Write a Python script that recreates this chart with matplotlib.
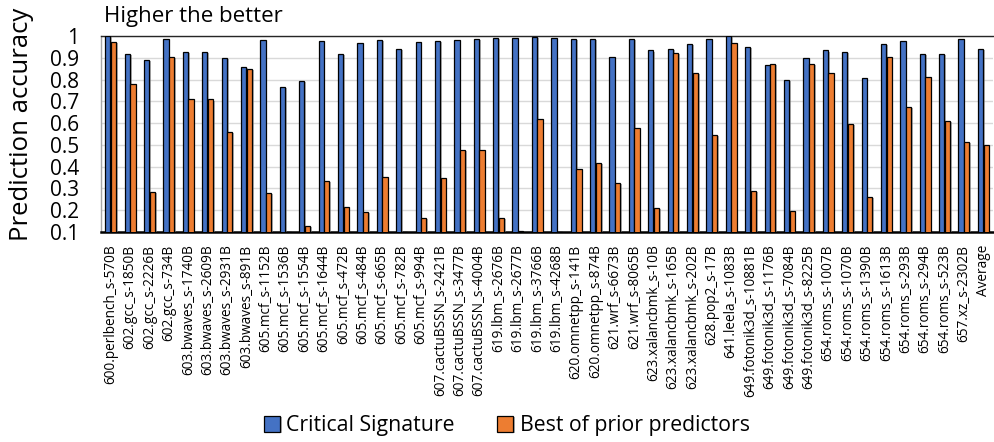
import matplotlib
matplotlib.use("Agg")
import matplotlib.pyplot as plt
import matplotlib.patheffects as pe
import numpy as np

plt.rcParams['font.family'] = ['Open Sans', 'DejaVu Sans']

categories = [
    "600.perlbench_s-570B", "602.gcc_s-1850B", "602.gcc_s-2226B", "602.gcc_s-734B",
    "603.bwaves_s-1740B", "603.bwaves_s-2609B", "603.bwaves_s-2931B", "603.bwaves_s-891B",
    "605.mcf_s-1152B", "605.mcf_s-1536B", "605.mcf_s-1554B", "605.mcf_s-1644B",
    "605.mcf_s-472B", "605.mcf_s-484B", "605.mcf_s-665B", "605.mcf_s-782B",
    "605.mcf_s-994B", "607.cactuBSSN_s-2421B", "607.cactuBSSN_s-3477B", "607.cactuBSSN_s-4004B",
    "619.lbm_s-2676B", "619.lbm_s-2677B", "619.lbm_s-3766B", "619.lbm_s-4268B",
    "620.omnetpp_s-141B", "620.omnetpp_s-874B", "621.wrf_s-6673B", "621.wrf_s-8065B",
    "623.xalancbmk_s-10B", "623.xalancbmk_s-165B", "623.xalancbmk_s-202B", "628.pop2_s-17B",
    "641.leela_s-1083B", "649.fotonik3d_s-10881B", "649.fotonik3d_s-1176B", "649.fotonik3d_s-7084B",
    "649.fotonik3d_s-8225B", "654.roms_s-1007B", "654.roms_s-1070B", "654.roms_s-1390B",
    "654.roms_s-1613B", "654.roms_s-293B", "654.roms_s-294B", "654.roms_s-523B",
    "657.xz_s-2302B", "Average",
]

critical_signature = [
    1.00, 0.916, 0.889, 0.985, 0.927, 0.927, 0.898, 0.858,
    0.980, 0.768, 0.794, 0.977, 0.919, 0.968, 0.980, 0.939,
    0.974, 0.976, 0.983, 0.985, 0.991, 0.991, 0.995, 0.991,
    0.988, 0.988, 0.904, 0.988, 0.934, 0.942, 0.962, 0.988,
    1.00, 0.951, 0.867, 0.799, 0.898, 0.934, 0.927, 0.809,
    0.963, 0.976, 0.918, 0.919, 0.988, 0.939,
]

best_prior = [
    0.971, 0.782, 0.286, 0.905, 0.713, 0.709, 0.558, 0.847,
    0.280, 0.101, 0.129, 0.336, 0.217, 0.193, 0.353, 0.101,
    0.166, 0.346, 0.475, 0.478, 0.166, 0.106, 0.620, 0.101,
    0.388, 0.416, 0.327, 0.576, 0.211, 0.921, 0.832, 0.545,
    0.966, 0.289, 0.870, 0.195, 0.870, 0.832, 0.596, 0.262,
    0.904, 0.674, 0.814, 0.610, 0.513, 0.498,
]

y_ticks = [0.1, 0.2, 0.3, 0.4, 0.5, 0.6, 0.7, 0.8, 0.9, 1.0]
y_tick_labels = ["0.1", "0.2", "0.3", "0.4", "0.5", "0.6", "0.7", "0.8", "0.9", "1"]

BLUE = "#4472C4"
ORANGE = "#ED7D31"

fig = plt.figure(figsize=(9.94, 4.42), dpi=100)
ax = fig.add_axes([0.1016, 0.475, 0.8974, 0.4435])

x = np.arange(len(categories))
w = 0.27
shadow = [pe.SimplePatchShadow(offset=(1.2, -0.8), shadow_rgbFace="#808080", alpha=0.6), pe.Normal()]
b1 = ax.bar(x - 0.145, critical_signature, width=w, color=BLUE, edgecolor="black",
            linewidth=0.9, label="Critical Signature", zorder=3)
b2 = ax.bar(x + 0.145, best_prior, width=w, color=ORANGE, edgecolor="black",
            linewidth=0.9, label="Best of prior predictors", zorder=3)
for bars in (b1, b2):
    for p in bars:
        p.set_path_effects(shadow)

ax.set_xlim(-0.5, len(categories) - 0.5)
ax.set_ylim(0.1, 1.0)
ax.set_yticks(y_ticks)
ax.set_yticklabels(y_tick_labels, fontsize=15)
ax.set_xticks(x)
ax.set_xticklabels(categories, rotation=90, fontsize=9.8)
ax.tick_params(axis="both", length=0)
ax.tick_params(axis="y", pad=16)
ax.tick_params(axis="x", pad=9)

ax.yaxis.grid(True, color="#D9D9D9", linewidth=1.0, zorder=0)
ax.set_axisbelow(True)
ax.spines["right"].set_visible(False)
ax.spines["left"].set_color("#A6A6A6")
ax.spines["left"].set_linewidth(1.0)
ax.spines["top"].set_color("#262626")
ax.spines["top"].set_linewidth(1.0)
ax.spines["bottom"].set_color("black")
ax.spines["bottom"].set_linewidth(1.8)

fig.text(22 / 994, 1 - 124 / 442, "Prediction accuracy", fontsize=18.5, rotation=90,
         ha="center", va="center")
fig.text(0.105, 0.963, "Higher the better", fontsize=16, ha="left", va="center")

fig.legend(handles=[b1, b2], labels=["Critical Signature", "Best of prior predictors"],
           loc="center", bbox_to_anchor=(0.51, 0.037), ncol=2, frameon=False,
           fontsize=15.3, handlelength=0.75, handleheight=0.75, handletextpad=0.3,
           columnspacing=2.0, borderaxespad=0)

fig.savefig("out.png", dpi=100)
